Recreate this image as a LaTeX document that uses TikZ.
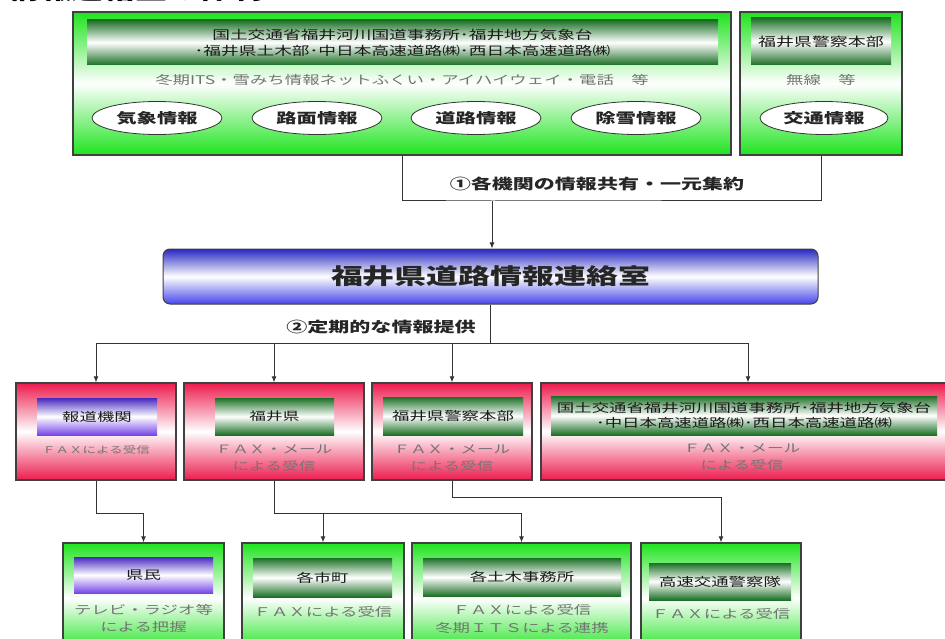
\documentclass[tikz,border=0pt]{standalone}
\usepackage{fontspec}
\setmainfont{Noto Sans CJK JP}[FakeStretch=1.45]
\usetikzlibrary{shapes.geometric,arrows.meta,calc}
\definecolor{gbright}{RGB}{30,228,30}
\definecolor{cred}{RGB}{236,28,78}
\definecolor{dkgreen}{RGB}{28,112,38}
\definecolor{ptop}{RGB}{70,40,190}
\definecolor{pbot}{RGB}{120,70,232}
\definecolor{btop}{RGB}{40,40,195}
\definecolor{bbot}{RGB}{70,70,235}
\begin{document}
\begin{tikzpicture}[x=1pt,y=-1pt,
  greenbox/.style={draw=black!75,line width=1.2pt,inner sep=0pt,
    top color=gbright,bottom color=gbright,middle color=white},
  redbox/.style={draw=black!75,line width=1.2pt,inner sep=0pt,
    top color=cred,bottom color=cred,middle color=white},
  gbar/.style={inner sep=0pt,align=center,text=black!90,
    top color=dkgreen,bottom color=dkgreen,middle color=white},
  pbar/.style={inner sep=0pt,align=center,text=black!90,
    top color=ptop,bottom color=pbot,middle color=white},
  infobox/.style={ellipse,draw=black!80,line width=0.8pt,fill=white,inner sep=0pt,
    minimum width=130pt,minimum height=33pt,
    font=\fontsize{14}{14}\selectfont\bfseries,text=black!85},
  subtext/.style={align=center,text=black!55,inner sep=0pt},
  lab/.style={font=\fontsize{14.5}{14.5}\selectfont\bfseries,text=black!85,inner sep=0pt},
  conn/.style={draw=black!80,line width=1pt},
  arr/.style={conn,-{Latex[length=6pt,width=5pt]}}
]
\useasboundingbox (0,0) rectangle (945,639);

% partly visible heading (cut off at top, as in the reference)
\node[anchor=base west,inner sep=0pt,font=\fontsize{22}{22}\selectfont\bfseries,text=black] (title) at (8,-0.5) {情報連絡室の体制};

% ---- top row ----
\node[greenbox,minimum width=658pt,minimum height=143pt] (box1) at (402,83.5) {};
\node[gbar,minimum width=631pt,minimum height=45pt,font=\fontsize{12.2}{16}\selectfont] (bar1) at (402.5,42.5)
  {国土交通省福井河川国道事務所･福井地方気象台\\･福井県土木部･中日本高速道路㈱･西日本高速道路㈱};
\node[subtext,font=\fontsize{12}{12}\selectfont] (sub1) at (402,80) {冬期ITS・雪みち情報ネットふくい・アイハイウェイ・電話　等};
\node[infobox] (e1) at (157,118) {気象情報};
\node[infobox] (e2) at (317,118) {路面情報};
\node[infobox] (e3) at (476,118) {道路情報};
\node[infobox] (e4) at (636,118) {除雪情報};

\node[greenbox,minimum width=162pt,minimum height=143pt] (box2) at (821,83.5) {};
\node[gbar,minimum width=140pt,minimum height=47pt,font=\fontsize{12.4}{16}\selectfont] (bar2) at (821,41.5) {福井県警察本部};
\node[subtext,font=\fontsize{12}{12}\selectfont] (sub2) at (821,80) {無線　等};
\node[infobox,minimum width=128pt] (e5) at (824,118) {交通情報};

% ---- centre ----
\node[draw=black!75,line width=1pt,rounded corners=7pt,inner sep=0pt,
  top color=btop,bottom color=bbot,middle color=white,
  minimum width=655pt,minimum height=55pt,
  font=\fontsize{22}{22}\selectfont\bfseries,text=black!85] (main) at (490.5,276.5) {福井県道路情報連絡室};

\coordinate (j1) at (492,201);
\draw[conn] (box1.south) |- (j1) -| (box2.south);
\draw[arr] (j1) -- (main.north -| j1);
\node[lab] (lab1) at (597,184) {①各機関の情報共有・一元集約};

% ---- second row ----
\node[redbox,minimum width=160pt,minimum height=97pt] (bA) at (96,431.5) {};
\node[redbox,minimum width=180pt,minimum height=97pt] (bB) at (274,431.5) {};
\node[redbox,minimum width=160pt,minimum height=97pt] (bC) at (452,431.5) {};
\node[redbox,minimum width=414pt,minimum height=97pt] (bD) at (748,431.5) {};

\node[pbar,minimum width=120pt,minimum height=37pt,font=\fontsize{12}{12}\selectfont] (hA) at (97,416.5) {報道機関};
\node[gbar,minimum width=119pt,minimum height=37pt,font=\fontsize{11.5}{12}\selectfont] (hB) at (274.5,416.5) {福井県};
\node[gbar,minimum width=140pt,minimum height=38pt,font=\fontsize{12}{12}\selectfont] (hC) at (453,416) {福井県警察本部};
\node[gbar,minimum width=386pt,minimum height=39pt,font=\fontsize{12}{15.5}\selectfont] (hD) at (744,415.5)
  {国土交通省福井河川国道事務所･福井地方気象台\\･中日本高速道路㈱･西日本高速道路㈱};

\node[subtext,font=\fontsize{9.3}{9.3}\selectfont] (sA) at (96,450) {ＦＡＸによる受信};
\node[subtext,font=\fontsize{11.5}{17}\selectfont] (sB) at (274,458.5) {ＦＡＸ・メール\\による受信};
\node[subtext,font=\fontsize{11.5}{17}\selectfont] (sC) at (452,458.5) {ＦＡＸ・メール\\による受信};
\node[subtext,font=\fontsize{11.5}{17}\selectfont] (sD) at (742,457) {ＦＡＸ・メール\\による受信};

\coordinate (j2) at (main.south |- 0,343);
\draw[conn] (main.south) -- (j2);
\draw[arr] (j2) -| (bA.north);
\draw[arr] (j2) -| (bB.north);
\draw[arr] (j2) -| (bC.north);
\draw[arr] (j2) -| (bD.north);
\node[lab] (lab2) at (381,327) {②定期的な情報提供};

% ---- third row ----
\node[greenbox,minimum width=161pt,minimum height=110pt] (kenmin) at (143.5,598) {};
\node[greenbox,minimum width=162pt,minimum height=110pt] (shicho) at (323,598) {};
\node[greenbox,minimum width=219pt,minimum height=110pt] (doboku) at (521.5,598) {};
\node[greenbox,minimum width=160pt,minimum height=110pt] (kosoku) at (721,598) {};

\node[pbar,minimum width=139pt,minimum height=36pt,font=\fontsize{12}{12}\selectfont] (hK) at (143.5,575) {県民};
\node[gbar,minimum width=139pt,minimum height=39pt,font=\fontsize{12}{12}\selectfont] (hS) at (322.5,577.5) {各市町};
\node[gbar,minimum width=198pt,minimum height=38pt,font=\fontsize{12}{12}\selectfont] (hT) at (522,577) {各土木事務所};
\node[gbar,minimum width=142pt,minimum height=37pt,font=\fontsize{12}{12}\selectfont] (hP) at (720,581.5) {高速交通警察隊};

\node[subtext,font=\fontsize{12}{17}\selectfont] (sK) at (143.5,618.5) {テレビ・ラジオ等\\による把握};
\node[subtext,font=\fontsize{12}{12}\selectfont] (sS) at (323,612) {ＦＡＸによる受信};
\node[subtext,font=\fontsize{12}{18}\selectfont] (sT) at (522,619) {ＦＡＸによる受信\\冬期ＩＴＳによる連携};
\node[subtext,font=\fontsize{12}{12}\selectfont] (sP) at (721,614) {ＦＡＸによる受信};

\draw[arr] (bA.south) -- ++(0,33) -| (kenmin.north);
\path (bB.south) ++(0,33) coordinate (j3);
\draw[arr] (bB.south) -- (j3) -| (doboku.north);
\draw[arr] (j3 -| shicho.north) -- (shicho.north);
\draw[arr] (bC.south) -- ++(0,17) -| (kosoku.north);
\end{tikzpicture}
\end{document}
